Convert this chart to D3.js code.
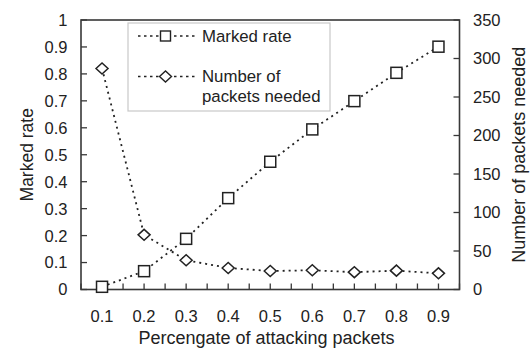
<!DOCTYPE html>
<html>
<head>
<meta charset="utf-8">
<script src="https://cdn.jsdelivr.net/npm/d3@7"></script>
<style>
  html, body { margin: 0; padding: 0; background: #fff; }
  svg { display: block; font-family: "Liberation Sans", Arial, sans-serif; }
</style>
</head>
<body>
<svg id="chart" width="532" height="351"></svg>
<script>
// Attack share (x), marked rate (left axis), packets needed (right axis)
const attackShare = [0.1, 0.2, 0.3, 0.4, 0.5, 0.6, 0.7, 0.8, 0.9];
const markedRate = [0.01, 0.068, 0.188, 0.339, 0.474, 0.594, 0.699, 0.804, 0.901];
const packetsNeeded = [287, 71, 38, 28, 24, 25, 22.5, 24.5, 21];
const xTicks = [0.1, 0.2, 0.3, 0.4, 0.5, 0.6, 0.7, 0.8, 0.9];
const xMinorTicks = [0.05, 0.1, 0.15, 0.2, 0.25, 0.3, 0.35, 0.4, 0.45, 0.5, 0.55, 0.6, 0.65, 0.7, 0.75, 0.8, 0.85, 0.9, 0.95];
const leftTicks = [0, 0.1, 0.2, 0.3, 0.4, 0.5, 0.6, 0.7, 0.8, 0.9, 1];
const rightTicks = [0, 50, 100, 150, 200, 250, 300, 350];

const svg = d3.select("#chart");
const m = { left: 81, right: 459.5, top: 20, bottom: 289.5 };
const axisColor = "#383838";
const ink = "#222";

const x = d3.scaleLinear().domain([0.05, 0.95]).range([m.left, m.right]);
const yL = d3.scaleLinear().domain([0, 1]).range([m.bottom, m.top]);
const yR = d3.scaleLinear().domain([0, 350]).range([m.bottom, m.top]);

// plot frame
svg.append("rect")
  .attr("x", m.left).attr("y", m.top)
  .attr("width", m.right - m.left).attr("height", m.bottom - m.top)
  .attr("fill", "none").attr("stroke", axisColor).attr("stroke-width", 1.6);

// bottom ticks point inward
svg.append("g").selectAll("line").data(xMinorTicks).join("line")
  .attr("x1", d => x(d)).attr("x2", d => x(d))
  .attr("y1", m.bottom).attr("y2", m.bottom - 6)
  .attr("stroke", axisColor).attr("stroke-width", 1.3);

svg.append("g").selectAll("text").data(xTicks).join("text")
  .attr("x", d => x(d)).attr("y", 321.5)
  .attr("text-anchor", "middle").attr("font-size", 16.5).attr("fill", "#222")
  .text(d => d3.format(".1f")(d));

// left axis
svg.append("g").selectAll("line").data(leftTicks).join("line")
  .attr("x1", m.left).attr("x2", m.left + 6)
  .attr("y1", d => yL(d)).attr("y2", d => yL(d))
  .attr("stroke", axisColor).attr("stroke-width", 1.3);
svg.append("g").selectAll("text").data(leftTicks).join("text")
  .attr("x", 67.5).attr("y", d => yL(d)).attr("dy", "0.36em")
  .attr("text-anchor", "end").attr("font-size", 16.5).attr("fill", "#222")
  .text(d => d === 0 || d === 1 ? String(d) : d3.format(".1f")(d));

// right axis
svg.append("g").selectAll("line").data(rightTicks).join("line")
  .attr("x1", m.right).attr("x2", m.right - 6)
  .attr("y1", d => yR(d)).attr("y2", d => yR(d))
  .attr("stroke", axisColor).attr("stroke-width", 1.3);
svg.append("g").selectAll("text").data(rightTicks).join("text")
  .attr("x", 473).attr("y", d => yR(d)).attr("dy", "0.36em")
  .attr("text-anchor", "start").attr("font-size", 16.5).attr("fill", "#222")
  .text(d => d);

// axis titles
svg.append("text").attr("x", 266.5).attr("y", 344)
  .attr("text-anchor", "middle").attr("font-size", 18).attr("fill", "#222")
  .text("Percengate of attacking packets");
svg.append("text")
  .attr("transform", `translate(33,${(m.top + m.bottom) / 2}) rotate(-90)`)
  .attr("text-anchor", "middle").attr("font-size", 17.5).attr("fill", "#222")
  .text("Marked rate");
svg.append("text")
  .attr("transform", `translate(525,${(m.top + m.bottom) / 2}) rotate(-90)`)
  .attr("text-anchor", "middle").attr("font-size", 18).attr("fill", "#222")
  .text("Number of packets needed");

// series
const lineL = d3.line().x((d, i) => x(attackShare[i])).y(d => yL(d));
const lineR = d3.line().x((d, i) => x(attackShare[i])).y(d => yR(d));

function dottedPath(g, d) {
  return g.append("path").attr("d", d).attr("fill", "none")
    .attr("stroke", ink).attr("stroke-width", 1.8)
    .attr("stroke-dasharray", "2,4");
}

dottedPath(svg, lineR(packetsNeeded));
dottedPath(svg, lineL(markedRate));

const sq = 11;
svg.append("g").selectAll("rect").data(markedRate).join("rect")
  .attr("x", (d, i) => x(attackShare[i]) - sq / 2)
  .attr("y", d => yL(d) - sq / 2)
  .attr("width", sq).attr("height", sq)
  .attr("fill", "#fff").attr("stroke", ink).attr("stroke-width", 1.5);

const diamond = (cx, cy) => `M${cx - 6},${cy}L${cx},${cy - 5.5}L${cx + 6},${cy}L${cx},${cy + 5.5}Z`;
svg.append("g").selectAll("path").data(packetsNeeded).join("path")
  .attr("d", (d, i) => diamond(x(attackShare[i]), yR(d)))
  .attr("fill", "#fff").attr("stroke", ink).attr("stroke-width", 1.5);

// legend
const lg = svg.append("g");
lg.append("rect").attr("x", 128).attr("y", 23).attr("width", 202).attr("height", 88)
  .attr("fill", "#fff").attr("stroke", "#c8c8c8").attr("stroke-width", 1.2);

const legendItems = [
  { y: 36, lines: ["Marked rate"], marker: "square" },
  { y: 76.5, lines: ["Number of", "packets needed"], marker: "diamond" }
];
legendItems.forEach(it => {
  lg.append("line").attr("x1", 138).attr("x2", 196).attr("y1", it.y).attr("y2", it.y)
    .attr("stroke", ink).attr("stroke-width", 1.6).attr("stroke-dasharray", "2.5,3.5");
  if (it.marker === "square") {
    lg.append("rect").attr("x", 165.5 - 5).attr("y", it.y - 5).attr("width", 10).attr("height", 10)
      .attr("fill", "#fff").attr("stroke", ink).attr("stroke-width", 1.4);
  } else {
    lg.append("path").attr("d", diamond(165.5, it.y))
      .attr("fill", "#fff").attr("stroke", ink).attr("stroke-width", 1.4);
  }
  it.lines.forEach((t, k) => {
    lg.append("text").attr("x", 202).attr("y", it.y + 5.5 + k * 20)
      .attr("font-size", 16.8).attr("fill", "#222").text(t);
  });
});
</script>
</body>
</html>
